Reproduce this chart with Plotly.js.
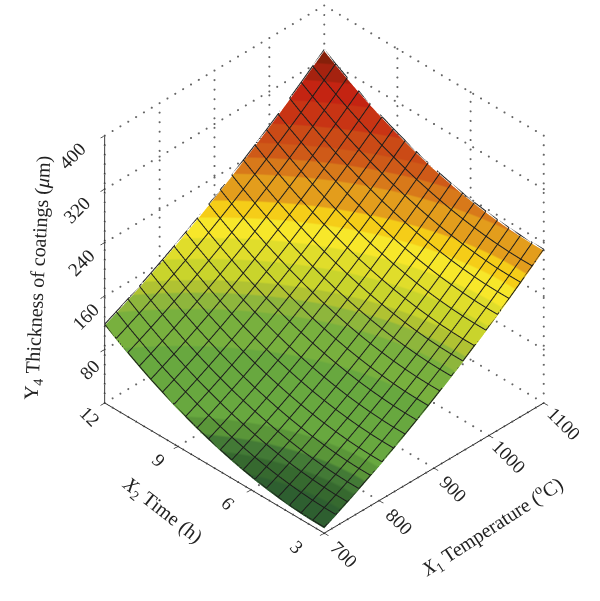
<!DOCTYPE html>
<html><head><meta charset="utf-8">
<script src="https://cdn.plot.ly/plotly-3.0.1.min.js"></script>
<style>html,body{margin:0;padding:0;background:#fff}#c{width:600px;height:601px}</style>
</head><body><div id="c"></div>
<script>
const temperature=[700,721.05,742.11,763.16,784.21,805.26,826.32,847.37,868.42,889.47,910.53,931.58,952.63,973.68,994.74,1015.79,1036.84,1057.89,1078.95,1100];
const time=[3,3.47,3.95,4.42,4.89,5.37,5.84,6.32,6.79,7.26,7.74,8.21,8.68,9.16,9.63,10.11,10.58,11.05,11.53,12];
const thickness=[
[7,15.6,24.6,33.9,43.6,53.5,63.8,74.5,85.4,96.7,108.4,120.3,132.6,145.3,158.2,171.5,185.1,199.1,213.4,228],
[7.2,15.8,24.7,34,43.6,53.6,63.9,74.5,85.5,96.8,108.4,120.3,132.6,145.2,158.2,171.4,185.1,199,213.3,227.9],
[7.9,16.5,25.5,34.8,44.4,54.3,64.6,75.2,86.1,97.4,109,120.9,133.2,145.8,158.7,172,185.6,199.5,213.8,228.4],
[9.3,17.9,26.8,36.1,45.7,55.6,65.9,76.5,87.4,98.7,110.3,122.2,134.4,147,159.9,173.2,186.8,200.7,215,229.5],
[11.3,19.9,28.8,38.1,47.7,57.6,67.8,78.4,89.3,100.6,112.1,124,136.3,148.9,161.8,175,188.6,202.5,216.7,231.3],
[14,22.5,31.4,40.7,50.2,60.1,70.4,80.9,91.8,103.1,114.6,126.5,138.8,151.3,164.2,177.4,191,204.9,219.1,233.7],
[17.2,25.8,34.7,43.9,53.4,63.3,73.5,84.1,95,106.2,117.7,129.6,141.8,154.4,167.3,180.5,194,207.9,222.1,236.6],
[21.1,29.6,38.5,47.7,57.3,67.1,77.3,87.9,98.8,110,121.5,133.4,145.6,158.1,171,184.1,197.7,211.5,225.7,240.3],
[25.6,34.1,43,52.2,61.7,71.6,81.7,92.3,103.1,114.3,125.8,137.7,149.9,162.4,175.2,188.4,201.9,215.8,230,244.5],
[30.7,39.2,48.1,57.3,66.8,76.6,86.8,97.3,108.1,119.3,130.8,142.7,154.8,167.3,180.2,193.3,206.8,220.7,234.8,249.3],
[36.5,44.9,53.8,63,72.4,82.3,92.4,102.9,113.8,124.9,136.4,148.2,160.4,172.9,185.7,198.8,212.4,226.2,240.3,254.8],
[42.8,51.3,60.1,69.3,78.7,88.6,98.7,109.2,120,131.2,142.6,154.4,166.6,179.1,191.9,205,218.5,232.3,246.4,260.9],
[49.8,58.3,67.1,76.2,85.7,95.5,105.6,116.1,126.9,138,149.5,161.3,173.4,185.9,198.7,211.8,225.3,239,253.2,267.6],
[57.4,65.8,74.6,83.8,93.2,103,113.1,123.6,134.4,145.5,156.9,168.7,180.8,193.3,206.1,219.2,232.6,246.4,260.5,274.9],
[65.6,74,82.8,91.9,101.4,111.1,121.3,131.7,142.5,153.6,165,176.8,188.9,201.3,214.1,227.2,240.6,254.4,268.5,282.9],
[74.4,82.9,91.6,100.7,110.2,119.9,130,140.5,151.2,162.3,173.7,185.5,197.6,210,222.7,235.8,249.2,263,277.1,291.5],
[83.9,92.3,101.1,110.2,119.6,129.3,139.4,149.8,160.6,171.6,183,194.8,206.9,219.3,232,245.1,258.5,272.2,286.3,300.7],
[94,102.4,111.1,120.2,129.6,139.3,149.4,159.8,170.5,181.6,193,204.7,216.8,229.2,241.9,255,268.3,282.1,296.1,310.5],
[104.7,113.1,121.8,130.9,140.2,150,160,170.4,181.1,192.2,203.5,215.3,227.3,239.7,252.4,265.4,278.8,292.5,306.6,320.9],
[116,124.4,133.1,142.1,151.5,161.2,171.2,181.6,192.3,203.4,214.7,226.4,238.5,250.8,263.5,276.5,289.9,303.6,317.6,332]];
const xTicks=[700,800,900,1000,1100];
const yTicks=[3,6,9,12];
const zTicks=[80,160,240,320,400];
const bandEdges=[0,20,30,40,50,98,125,137,146,162,179,195,208,229,243,255,270,290,308,322,340];
const bandColors=['#2e5f30','#36692f','#437a36','#5a9639','#68a83f','#78b03e','#8eb63c','#b0c232','#c9d42c','#e0dd2b','#f7e72a','#f5cd18','#e39d1c','#d8791a','#cf5a18','#cb4a16','#c83414','#c42412','#a5220f','#86200a'];
const dotCount=28;
const meshLift=2;
const serif='"Liberation Serif", serif';

const zMax=bandEdges[bandEdges.length-1];
const colorscale=[];
bandColors.forEach((c,i)=>{colorscale.push([bandEdges[i]/zMax,c]);colorscale.push([bandEdges[i+1]/zMax,c]);});

const xA=xTicks[0],xB=xTicks[xTicks.length-1],yA=yTicks[0],yB=yTicks[yTicks.length-1],zTop=zTicks[zTicks.length-1];
const traces=[{type:'surface',x:temperature,y:time,z:thickness,colorscale,cmin:0,cmax:zMax,showscale:false,hoverinfo:'skip',
 lighting:{ambient:1,diffuse:0,specular:0,roughness:1,fresnel:0},
 contours:{x:{show:false,highlight:false},y:{show:false,highlight:false},z:{show:false,highlight:false}}}];
const dx=[],dy=[],dz=[];
function dotted(a,b){for(let k=0;k<=dotCount;k++){const f=k/dotCount;dx.push(a[0]+(b[0]-a[0])*f);dy.push(a[1]+(b[1]-a[1])*f);dz.push(a[2]+(b[2]-a[2])*f);}}
xTicks.forEach(t=>{dotted([t,yA,0],[t,yB,0]);dotted([t,yB,0],[t,yB,zTop]);});
yTicks.forEach(t=>{dotted([xA,t,0],[xB,t,0]);dotted([xB,t,0],[xB,t,zTop]);});
zTicks.forEach(t=>{dotted([xA,yB,t],[xB,yB,t]);dotted([xB,yA,t],[xB,yB,t]);});
traces.push({type:'scatter3d',mode:'markers',x:dx,y:dy,z:dz,hoverinfo:'skip',marker:{color:'#666',size:1.2,line:{width:0}},showlegend:false});
// mesh lines follow the table rows and columns
const meshLine=(xs,ys,zs)=>traces.push({type:'scatter3d',mode:'lines',x:xs,y:ys,z:zs.map(v=>v+meshLift),hoverinfo:'skip',line:{color:'#1c1c1c',width:2},showlegend:false});
time.forEach((t,j)=>meshLine(temperature,temperature.map(()=>t),thickness[j]));
temperature.forEach((T,i)=>meshLine(time.map(()=>T),time,thickness.map(r=>r[i])));

const tick=(x,y,z,text,angle,ox,oy)=>({x,y,z,text:String(text),showarrow:false,textangle:angle,xanchor:'center',yanchor:'middle',xshift:ox,yshift:oy,font:{family:serif,size:19,color:'#222'}});
const sceneAnn=[];
xTicks.forEach(t=>sceneAnn.push(tick(t,yA,0,t,45,20,-21)));
yTicks.forEach(t=>sceneAnn.push(tick(xA,t,0,t,45,-27+(t-yA)/(yB-yA)*12,-14)));
zTicks.forEach(t=>sceneAnn.push(tick(xA,yB,t,t,-45,-15-17*(t-80)/320,-20)));
const ax=(vals,range)=>({range,tickvals:vals,showticklabels:false,title:{text:''},showgrid:false,zeroline:false,showbackground:false,showspikes:false,showline:true,linecolor:'#222',linewidth:2,ticks:'outside',ticklen:6,tickcolor:'#222',tickwidth:1.5});
const title=(text,x,y,angle)=>({text,x:x/600,y:1-y/601,xref:'paper',yref:'paper',showarrow:false,textangle:angle,xanchor:'center',yanchor:'middle',font:{family:serif,size:20,color:'#222'}});
const cx=-0.057,cy=0.057,cz=-0.129;
const layout={width:600,height:601,margin:{l:0,r:0,t:0,b:0},paper_bgcolor:'#fff',showlegend:false,hovermode:false,
 scene:{domain:{x:[0,1],y:[0,1]},aspectmode:'manual',aspectratio:{x:1.033,y:1.033,z:1.105},
  camera:{eye:{x:-1.171+cx,y:-1.171+cy,z:1.22+cz},center:{x:cx,y:cy,z:cz},up:{x:0,y:0,z:1},projection:{type:'orthographic'}},
  xaxis:ax(xTicks,[xA,xB]),yaxis:ax(yTicks,[yA,yB]),zaxis:ax(zTicks,[0,zTop]),annotations:sceneAnn},
 annotations:[
  title('<i>X</i><sub>1</sub> Temperature (<sup>o</sup>C)',492,527,-33),
  title('<i>X</i><sub>2</sub> Time (h)',162,510,38),
  title('Y<sub>4</sub> Thickness of coatings (<i>μ</i>m)',38,278,-87)]};
Plotly.newPlot('c',traces,layout,{displayModeBar:false});
</script></body></html>
